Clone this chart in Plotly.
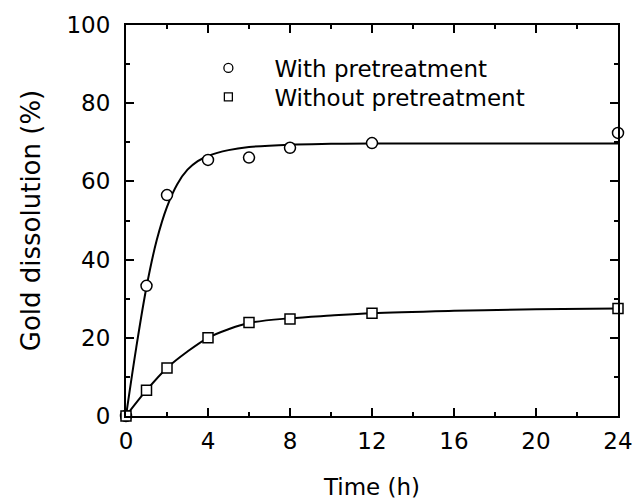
import plotly.graph_objects as go

# Measured data
time_h = [0, 1, 2, 4, 6, 8, 12, 24]
with_pre = [0, 33.3, 56.5, 65.5, 66.1, 68.6, 69.8, 72.4]
without_pre = [0, 6.6, 12.3, 20.0, 23.9, 24.8, 26.3, 27.5]

# Fitted curves
fit_t_with = [0, 0.5, 1, 1.5, 2, 2.5, 3, 3.5, 4, 5, 6, 8, 10, 12, 16, 20, 24]
fit_with = [0, 17.5, 33.0, 45.0, 53.5, 59.3, 63.0, 65.2, 66.5, 68.0, 68.8, 69.4, 69.6, 69.7, 69.7, 69.7, 69.7]
fit_t_without = [0, 1, 2, 3, 4, 5, 6, 8, 10, 12, 16, 20, 24]
fit_without = [0, 6.6, 12.3, 16.5, 20.0, 22.2, 23.8, 25.0, 25.7, 26.3, 26.9, 27.3, 27.5]

x_ticks = [0, 4, 8, 12, 16, 20, 24]
y_ticks = [0, 20, 40, 60, 80, 100]

FONT = "DejaVu Sans"
FS = 23

fig = go.Figure()
fig.add_trace(go.Scatter(x=fit_t_with, y=fit_with, mode="lines",
                         line=dict(color="black", width=2, shape="spline", smoothing=1.0),
                         showlegend=False, hoverinfo="skip"))
fig.add_trace(go.Scatter(x=fit_t_without, y=fit_without, mode="lines",
                         line=dict(color="black", width=2, shape="spline", smoothing=1.0),
                         showlegend=False, hoverinfo="skip"))
fig.add_trace(go.Scatter(x=time_h, y=with_pre, mode="markers", name="With pretreatment",
                         marker=dict(symbol="circle", size=11, color="white",
                                     line=dict(color="black", width=1.5)),
                         cliponaxis=False, showlegend=False))
fig.add_trace(go.Scatter(x=time_h, y=without_pre, mode="markers", name="Without pretreatment",
                         marker=dict(symbol="square", size=10, color="white",
                                     line=dict(color="black", width=1.5)),
                         cliponaxis=False, showlegend=False))
# legend entries
fig.add_trace(go.Scatter(x=[None], y=[None], mode="markers", name="With pretreatment",
                         marker=dict(symbol="circle", size=9, color="white",
                                     line=dict(color="black", width=1.3)),
                         legend="legend"))
fig.add_trace(go.Scatter(x=[None], y=[None], mode="markers", name="Without pretreatment",
                         marker=dict(symbol="square", size=8, color="white",
                                     line=dict(color="black", width=1.3)),
                         legend="legend2"))

axis_common = dict(
    showline=True, linecolor="black", linewidth=2, mirror="allticks",
    ticks="inside", ticklen=8, tickwidth=1.5, tickcolor="black",
    showgrid=False, zeroline=False, automargin=False,
    tickfont=dict(family=FONT, size=FS, color="black"),
)

fig.update_xaxes(range=[0, 24], tickvals=x_ticks, ticktext=[str(v) for v in x_ticks],
                 ticklabelstandoff=3,
                 title=dict(text="Time (h)", font=dict(family=FONT, size=FS, color="black"), standoff=26),
                 minor=dict(ticks="inside", ticklen=4, tickwidth=1.5, tickcolor="black", dtick=2, tick0=0),
                 **axis_common)
fig.update_yaxes(range=[0, 100], tickvals=y_ticks, ticktext=[str(v) for v in y_ticks],
                 ticklabelstandoff=9,
                 title=dict(text="Gold dissolution (%)", font=dict(family=FONT, size=26, color="black"), standoff=18),
                 minor=dict(ticks="inside", ticklen=4, tickwidth=1.5, tickcolor="black", dtick=10, tick0=0),
                 **axis_common)

leg_common = dict(xanchor="left", yanchor="middle", bgcolor="rgba(0,0,0,0)",
                  font=dict(family=FONT, size=FS, color="black"), itemwidth=82)
fig.update_layout(
    width=634, height=504,
    margin=dict(l=126, r=16, t=25, b=88),
    plot_bgcolor="white", paper_bgcolor="white",
    font=dict(family=FONT, size=FS, color="black"),
    legend=dict(x=0.1146, y=0.890, **leg_common),
    legend2=dict(x=0.1146, y=0.816, **leg_common),
)

# remove the default page margin so the figure fills the window exactly
fig.write_html("out.html",
               config={"displayModeBar": False},
               post_script="document.body.style.margin='0';document.body.style.overflow='hidden';")
